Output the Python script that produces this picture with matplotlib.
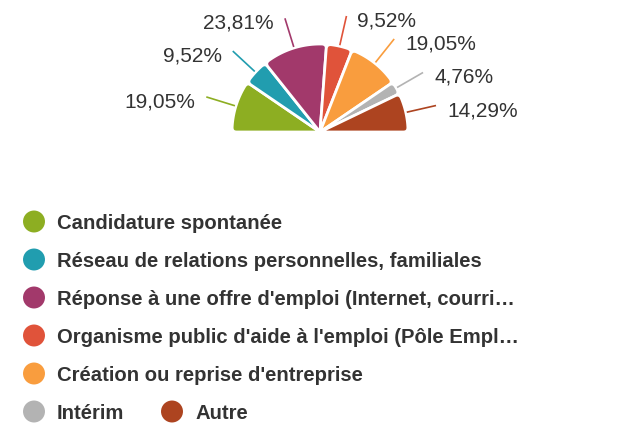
import numpy as np
import matplotlib
matplotlib.use("Agg")
import matplotlib.pyplot as plt
from matplotlib.path import Path
from matplotlib.patches import PathPatch

categories = [
    "Candidature spontanée",
    "Réseau de relations personnelles, familiales",
    "Réponse à une offre d'emploi (Internet, courri…",
    "Organisme public d'aide à l'emploi (Pôle Empl…",
    "Création ou reprise d'entreprise",
    "Intérim",
    "Autre",
]
values = [19.05, 9.52, 23.81, 9.52, 19.05, 4.76, 14.29]
value_labels = ["19,05%", "9,52%", "23,81%", "9,52%", "19,05%", "4,76%", "14,29%"]
colors = ["#8DAE22", "#219DAF", "#A2396B", "#E0533A", "#F99D3E", "#B3B3B3", "#AD4420"]

W, H = 617, 423
plt.rcParams['font.family'] = ['Liberation Sans', 'DejaVu Sans']
fig = plt.figure(figsize=(W / 100, H / 100), dpi=100)
ax = fig.add_axes([0, 0, 1, 1])

cx, cy, R = 320, H - 132, 88
total = sum(values)
# semicircle: add a hidden remainder equal to the total
wedges, _ = ax.pie(values + [total], colors=colors + ["none"], startangle=180,
                   counterclock=False, center=(cx, cy), radius=R, frame=True,
                   wedgeprops=dict(edgecolor="white", linewidth=2.0))
wedges[-1].set_visible(False)


def rounded_wedge_path(center, r, t1, t2, d=4.5):
    c = np.asarray(center, dtype=float)
    a1, a2 = np.deg2rad(t1), np.deg2rad(t2)
    dt = d / r

    def pt(rad, ang):
        return c + rad * np.array([np.cos(ang), np.sin(ang)])

    verts = [c, pt(r - d, a1), pt(r, a1), pt(r, a1 + dt)]
    codes = [Path.MOVETO, Path.LINETO, Path.CURVE3, Path.CURVE3]
    for ang in np.linspace(a1 + dt, a2 - dt, 60)[1:]:
        verts.append(pt(r, ang))
        codes.append(Path.LINETO)
    verts += [pt(r, a2), pt(r - d, a2), c]
    codes += [Path.CURVE3, Path.CURVE3, Path.CLOSEPOLY]
    return Path(verts, codes)


# replace the sharp wedges by versions with rounded outer corners
for w in wedges[:-1]:
    p = rounded_wedge_path(w.center, w.r, w.theta1, w.theta2)
    ax.add_patch(PathPatch(p, facecolor=w.get_facecolor(), edgecolor="white",
                           linewidth=2.0, joinstyle="round"))
    w.set_visible(False)

txt_color = "#333333"
for w, lab, col in zip(wedges[:-1], value_labels, colors):
    mid = np.deg2rad((w.theta1 + w.theta2) / 2)
    r1, r2 = R + 1, R + 31
    x1, y1 = cx + r1 * np.cos(mid), cy + r1 * np.sin(mid)
    x2, y2 = cx + r2 * np.cos(mid), cy + r2 * np.sin(mid)
    ax.plot([x1, x2], [y1, y2], color=col, lw=1.2, solid_capstyle="butt")
    left = np.cos(mid) < 0
    tx = x2 - 11 if left else x2 + 11
    ax.text(tx, y2 - 3 - 7.5, lab, ha="right" if left else "left", va="baseline",
            fontsize=15, color=txt_color)

# legend
rows = [(34, 221.5), (34, 259.5), (34, 297.5), (34, 335.5), (34, 373.5), (34, 411.5), (172, 411.5)]
for (lx, ly), name, col in zip(rows, categories, colors):
    ax.scatter([lx], [H - ly], s=250, color=col, edgecolors="none", zorder=3)
    ax.text(lx + 23, H - ly - 7.2, name, ha="left", va="baseline", fontsize=14.6,
            fontweight="bold", color=txt_color)

ax.set_xlim(0, W)
ax.set_ylim(0, H)
ax.set_aspect("auto")
ax.axis("off")
fig.savefig("out.png", dpi=100, facecolor="white")
